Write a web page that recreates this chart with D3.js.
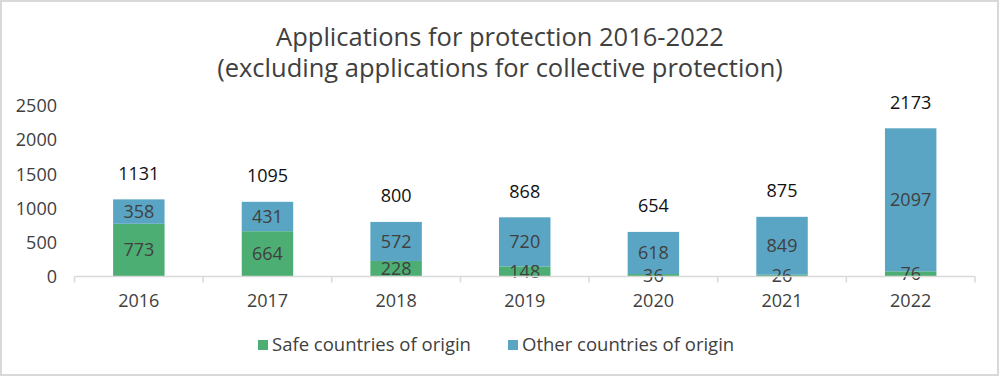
<!DOCTYPE html>
<html><head><meta charset="utf-8">
<script src="https://cdn.jsdelivr.net/npm/d3@7"></script>
<style>
html,body{margin:0;padding:0;background:#fff;}
text{font-family:"Open Sans", sans-serif;}
</style></head>
<body><svg id="c" width="1000" height="376"></svg>
<script>
const categories = ["2016","2017","2018","2019","2020","2021","2022"];
const safeValues = [773,664,228,148,36,26,76];
const otherValues = [358,431,572,720,618,849,2097];
const totals = [1131,1095,800,868,654,875,2173];
const yTicks = [0,500,1000,1500,2000,2500];
const seriesNames = ["Safe countries of origin","Other countries of origin"];
const colors = ["#4DAE74","#5AA5C4"];
const titleLines = ["Applications for protection 2016-2022","(excluding applications for collective protection)"];

(function(){
const svg = d3.select("#c");
svg.append("rect").attr("x",1).attr("y",1).attr("width",997).attr("height",374)
  .attr("fill","#fff").attr("stroke","#d9d9d9").attr("stroke-width",2);

const pL=74.5, pR=975, pT=106, pB=276.5;
const x = d3.scaleBand().domain(categories).range([pL,pR]).paddingInner(0.6).paddingOuter(0.3);
const xb = d3.scaleBand().domain(categories).range([pL,pR]);
const y = d3.scaleLinear().domain([0,2500]).range([pB,pT]);

svg.append("g").selectAll("text").data(titleLines).join("text")
  .attr("x",500).attr("y",(d,i)=>46+i*31).attr("text-anchor","middle")
  .attr("font-size",25.5).attr("fill","#404040").text(d=>d);

svg.append("g").selectAll("text").data(yTicks).join("text")
  .attr("x",57).attr("y",d=>y(d)).attr("dy","0.35em").attr("text-anchor","end")
  .attr("font-size",18).attr("fill","#404040").text(d=>d);

const rows = categories.map((c,i)=>({cat:c, safe:safeValues[i], other:otherValues[i]}));
const stack = d3.stack().keys(["safe","other"])(rows);

const g = svg.append("g");
stack.forEach((layer,li)=>{
  g.selectAll(null).data(layer).join("rect")
    .attr("x",d=>x(d.data.cat)).attr("width",x.bandwidth())
    .attr("y",d=>y(d[1])).attr("height",d=>y(d[0])-y(d[1]))
    .attr("fill",colors[li]);
});

svg.append("line").attr("x1",pL).attr("x2",pR).attr("y1",pB).attr("y2",pB)
  .attr("stroke","#d9d9d9").attr("stroke-width",1.5);
const bounds = categories.map(c=>xb(c)).concat([pR]);
svg.append("g").selectAll("line").data(bounds).join("line")
  .attr("x1",d=>d).attr("x2",d=>d).attr("y1",pB).attr("y2",pB+6)
  .attr("stroke","#d9d9d9").attr("stroke-width",1.5);

stack.forEach((layer,li)=>{
  g.selectAll(null).data(layer).join("text")
    .attr("x",d=>x(d.data.cat)+x.bandwidth()/2)
    .attr("y",d=>(y(d[0])+y(d[1]))/2).attr("dy","0.35em")
    .attr("text-anchor","middle").attr("font-size",18).attr("fill","#404040")
    .text(d=>d[1]-d[0]);
});

svg.append("g").selectAll("text").data(categories).join("text")
  .attr("x",d=>x(d)+x.bandwidth()/2).attr("y",(d,i)=>y(totals[i])-26).attr("dy","0.35em")
  .attr("text-anchor","middle").attr("font-size",18).attr("fill","#111").text((d,i)=>totals[i]);

svg.append("g").selectAll("text").data(categories).join("text")
  .attr("x",d=>x(d)+x.bandwidth()/2).attr("y",301).attr("dy","0.35em")
  .attr("text-anchor","middle").attr("font-size",18).attr("fill","#404040").text(d=>d);

const legX = [258,508];
const lg = svg.append("g");
seriesNames.forEach((n,i)=>{
  lg.append("rect").attr("x",legX[i]).attr("y",340).attr("width",10).attr("height",10).attr("fill",colors[i]);
  lg.append("text").attr("x",legX[i]+14).attr("y",345).attr("dy","0.35em")
    .attr("font-size",18.5).attr("fill","#404040").text(n);
});
})();
</script></body></html>
